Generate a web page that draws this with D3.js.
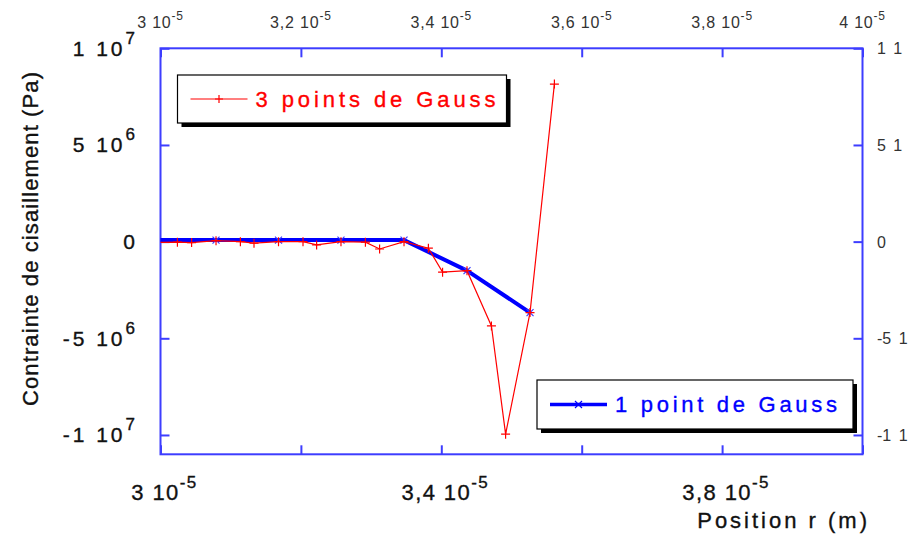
<!DOCTYPE html>
<html><head><meta charset="utf-8">
<script src="https://cdn.jsdelivr.net/npm/d3@7"></script>
<style>
body{margin:0;background:#fff;}
svg{display:block;font-family:"Liberation Sans",Arial,sans-serif;}
</style>
</head><body>
<svg id="c" width="912" height="538"></svg>
<script>
// ---- data (x in metres, y in Pa) ----
const redX = [2.9546e-5,2.9893e-5,3.0241e-5,3.0443e-5,3.0791e-5,3.1138e-5,3.1332e-5,3.1681e-5,3.2030e-5,3.2224e-5,3.2571e-5,3.2919e-5,3.3121e-5,3.3469e-5,3.3816e-5,3.4018e-5,3.4366e-5,3.4714e-5,3.4916e-5,3.5264e-5,3.5611e-5];
const redY = [-5e4,-4e4,-3e4,-5e4,5e4,0,-8e4,0,0,-1.7e5,0,-3e4,-3.8e5,0,-3.4e5,-1.58e6,-1.5e6,-4.36e6,-9.96e6,-3.67e6,8.15e6];
const blueX = [2.9893e-5,3.0791e-5,3.1681e-5,3.2571e-5,3.3469e-5,3.4366e-5,3.5264e-5];
const blueY = [8e4,8e4,8e4,8e4,8e4,-1.5e6,-3.67e6];
const seriesNames = ["3 points de Gauss","1 point de Gauss"];

const xTicks = [3e-5,3.2e-5,3.4e-5,3.6e-5,3.8e-5,4e-5];
const topLabelBase = ["3 10","3,2 10","3,4 10","3,6 10","3,8 10","4 10"];
const topLabelExp = ["-5","-5","-5","-5","-5","-5"];
const bottomTicks = [3e-5,3.4e-5,3.8e-5];
const bottomLabelBase = ["3 10","3,4 10","3,8 10"];
const bottomLabelExp = ["-5","-5","-5"];
const yTicks = [1e7,5e6,0,-5e6,-1e7];
const leftLabelBase = ["1 10","5 10","0","-5 10","-1 10"];
const leftLabelExp = ["7","6","","6","7"];
const rightLabels = ["1 1","5 1","0","-5 1","-1 1"];
const xTitle = "Position r (m)";
const yTitle = "Contrainte de cisaillement (Pa)";

// ---- layout ----
const L = 160.5, R = 862.5, T = 48.3, B = 454.3;
const frameColor = "#3d3dff";
const svg = d3.select("#c");
const x = d3.scaleLinear().domain([3e-5,4e-5]).range([L,R]);
const y = d3.scaleLinear().domain([-1.1e7,1e7]).range([B,T]);

// frame
svg.append("rect").attr("x",L).attr("y",T).attr("width",R-L).attr("height",B-T)
  .attr("fill","none").attr("stroke",frameColor).attr("stroke-width",2);

function styleAxis(g){
  g.select(".domain").remove();
  g.selectAll(".tick line").attr("stroke",frameColor).attr("stroke-width",2);
  g.selectAll(".tick text").remove();
}
const tl = 9;
svg.append("g").attr("transform",`translate(0,${B})`)
  .call(d3.axisBottom(x).tickValues(xTicks).tickSizeInner(-tl).tickSizeOuter(0).tickFormat(""))
  .call(styleAxis);
svg.append("g").attr("transform",`translate(0,${T})`)
  .call(d3.axisTop(x).tickValues(xTicks).tickSizeInner(-tl).tickSizeOuter(0).tickFormat(""))
  .call(styleAxis);
svg.append("g").attr("transform",`translate(${L},0)`)
  .call(d3.axisLeft(y).tickValues(yTicks).tickSizeInner(-tl).tickSizeOuter(0).tickFormat(""))
  .call(styleAxis);
svg.append("g").attr("transform",`translate(${R},0)`)
  .call(d3.axisRight(y).tickValues(yTicks).tickSizeInner(-tl).tickSizeOuter(0).tickFormat(""))
  .call(styleAxis);

// label with superscript
function supLabel(px, py, base, exp, o){
  const t = svg.append("text").attr("y",py).attr("fill",o.color)
    .attr("stroke",o.color).attr("stroke-width",o.sw||0)
    .style("font-size",o.fs+"px").style("letter-spacing",o.ls+"px");
  t.append("tspan").text(base);
  const bw = t.node().getComputedTextLength();
  if (exp) t.append("tspan").attr("dy",-o.raise).style("font-size",o.efs+"px").text(exp);
  const tw = t.node().getComputedTextLength();
  let sx;
  if (o.align==="end") sx = px - tw;
  else if (o.align==="middle") sx = px - tw/2;
  else if (o.align==="base") sx = px - bw/2;
  else sx = px;
  t.attr("x",sx);
  return t;
}
// top labels
xTicks.forEach((v,i)=>supLabel(x(v),28,topLabelBase[i],topLabelExp[i],
  {color:"#333",fs:16,efs:12,raise:8,ls:0.8,align:"middle"}));
// bottom labels
bottomTicks.forEach((v,i)=>supLabel(x(v)+4,500,bottomLabelBase[i],bottomLabelExp[i],
  {color:"#111",fs:22,efs:17,raise:12,ls:1.4,sw:0.35,align:"middle"}));
// left labels
yTicks.forEach((v,i)=>supLabel(138,y(v)+7.5,leftLabelBase[i],leftLabelExp[i],
  {color:"#111",fs:21,efs:17,raise:12,ls:3,sw:0.35,align:"end"}));
// right labels
yTicks.forEach((v,i)=>svg.append("text").attr("x",877).attr("y",y(v)+6)
  .attr("fill","#333").style("font-size","16px").style("word-spacing","3px").text(rightLabels[i]));

// titles
svg.append("text").attr("x",870).attr("y",528).attr("text-anchor","end")
  .attr("fill","#111").attr("stroke","#111").attr("stroke-width",0.35)
  .style("font-size","22px").style("letter-spacing","3px").text(xTitle);
svg.append("text").attr("transform","translate(38,239) rotate(-90)").attr("text-anchor","middle")
  .attr("fill","#111").attr("stroke","#111").attr("stroke-width",0.35).style("font-size","22px")
  .attr("textLength",334).attr("lengthAdjust","spacing").text(yTitle);

// clip
svg.append("clipPath").attr("id","clip").append("rect")
  .attr("x",L).attr("y",T).attr("width",R-L).attr("height",B-T);
const plot = svg.append("g").attr("clip-path","url(#clip)");

const line = d3.line().x(d=>x(d[0])).y(d=>y(d[1]));
const blueData = blueX.map((v,i)=>[v,blueY[i]]);
const redData = redX.map((v,i)=>[v,redY[i]]);

function plusPath(cx,cy,h){return `M${cx-h},${cy}H${cx+h}M${cx},${cy-h}V${cy+h}`;}
function crossPath(cx,cy,h){return `M${cx-h},${cy-h}L${cx+h},${cy+h}M${cx-h},${cy+h}L${cx+h},${cy-h}`;}

plot.append("path").datum(blueData).attr("d",line).attr("fill","none")
  .attr("stroke","#0000ff").attr("stroke-width",4).attr("stroke-linejoin","round");
plot.selectAll(".bm").data(blueData).enter().append("path")
  .attr("d",d=>crossPath(x(d[0]),y(d[1]),3.5)).attr("stroke","#3b3bff").attr("stroke-width",1.2);
plot.append("path").datum(redData).attr("d",line).attr("fill","none")
  .attr("stroke","#ff0000").attr("stroke-width",1.2);
plot.selectAll(".rm").data(redData).enter().append("path")
  .attr("d",d=>plusPath(x(d[0]),y(d[1]),4.5)).attr("stroke","#ff0000").attr("stroke-width",1.2);

// legends
function legend(bx,by,bw,bh,color,width,marker,name,tlen){
  const g = svg.append("g");
  g.append("rect").attr("x",bx+4).attr("y",by+4).attr("width",bw).attr("height",bh).attr("fill","#000");
  g.append("rect").attr("x",bx).attr("y",by).attr("width",bw).attr("height",bh)
    .attr("fill","#fff").attr("stroke","#000").attr("stroke-width",1.2);
  const ly = by+bh/2;
  g.append("line").attr("x1",bx+13).attr("x2",bx+70).attr("y1",ly).attr("y2",ly)
    .attr("stroke",color).attr("stroke-width",width);
  const mx = bx+41.5;
  g.append("path").attr("d",marker==="plus"?plusPath(mx,ly,4):crossPath(mx,ly,3.5))
    .attr("stroke",color).attr("stroke-width",1.2);
  g.append("text").attr("x",bx+78).attr("y",ly+7.5).attr("fill",color)
    .attr("stroke",color).attr("stroke-width",0.35)
    .style("font-size","22px").attr("textLength",tlen).attr("lengthAdjust","spacing").text(name);
}
legend(177.5,75,329,48,"#ff0000",1.2,"plus",seriesNames[0],240);
legend(537,380,316,49,"#0000ff",3.5,"cross",seriesNames[1],222);
</script>
</body></html>
